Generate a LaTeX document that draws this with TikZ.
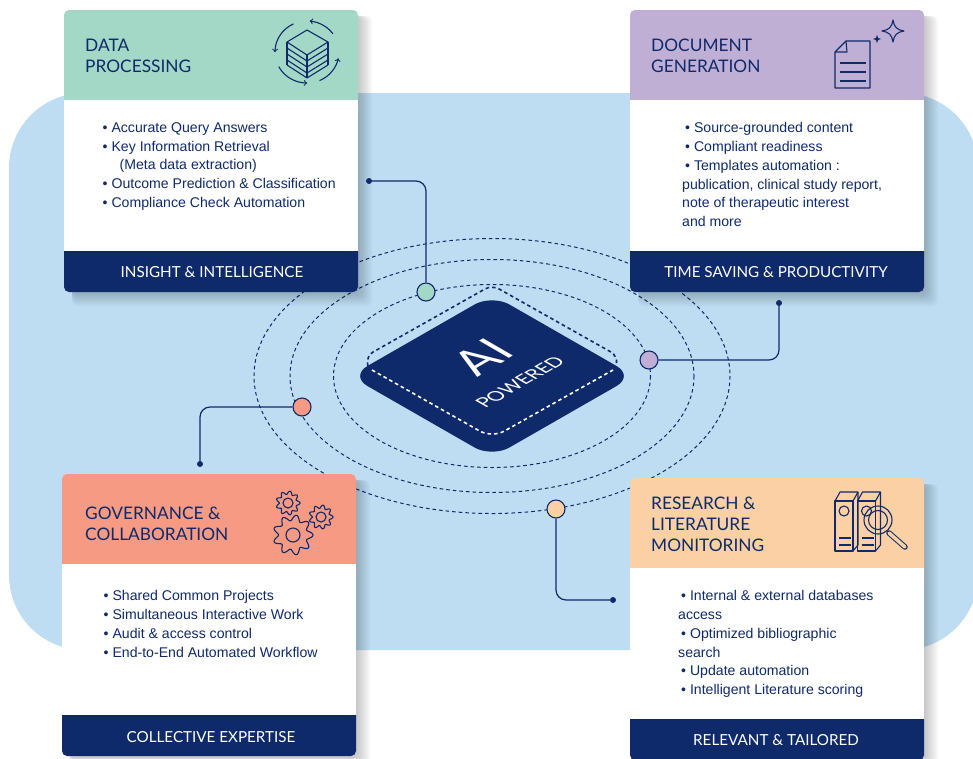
\documentclass[tikz,border=0pt]{standalone}
\usepackage{fontspec}
\setmainfont{Lato}
\newfontfamily\bodyfont{Liberation Sans}
\definecolor{navy}{HTML}{0F2A6B}
\definecolor{skyback}{HTML}{BEDDF3}
\definecolor{greenhead}{HTML}{A3D7C6}
\definecolor{purplehead}{HTML}{BFAFD5}
\definecolor{salmonhead}{HTML}{F69A84}
\definecolor{orangehead}{HTML}{FAD0A4}
\tikzset{
    titletxt/.style={anchor=north west,inner sep=0pt,align=left,text=navy,font=\fontsize{17.3}{21}\selectfont},
    bodytxt/.style={anchor=north west,inner sep=0pt,align=left,text=navy,font=\bodyfont\fontsize{14.1}{18.7}\selectfont},
    foottxt/.style={inner sep=0pt,text=white,font=\fontsize{15.2}{16}\selectfont},
    orbit/.style={draw=navy,line width=1pt,dash pattern=on 3.6pt off 3pt},
    link/.style={draw=navy,line width=1.2pt,rounded corners=10pt},
    hub/.style={circle,draw=navy,line width=1.1pt,minimum size=18pt,inner sep=0pt},
    enddot/.style={circle,fill=navy,minimum size=6pt,inner sep=0pt},
    iconline/.style={draw=navy,line width=1.1pt,line join=round},
    chiptxt/.style={inner sep=0pt,text=white,cm={0.866,0.5,-0.866,0.5,(0,0)}},
}
% one card: left, top, header colour
\newcommand{\cardbox}[3]{
    \foreach \s in {2,4,...,14}
        \fill[black,opacity=0.032,rounded corners=6pt] ({#1+8},{#2+6}) rectangle ({#1+294+\s},{#2+282+\s});
    \fill[#3,rounded corners=5pt] (#1,#2) rectangle ({#1+294},{#2+110});
    \fill[white] (#1,{#2+90}) rectangle ({#1+294},{#2+241});
    \fill[navy] (#1,{#2+241}) -- ({#1+294},{#2+241}) [rounded corners=5pt] -- ({#1+294},{#2+282}) -- (#1,{#2+282}) [sharp corners] -- cycle;
}
% gear outline with hole
\newcommand{\gearicon}[4]{
    \draw[iconline,domain=0:360,samples=145,smooth,variable=\t] plot({#1+#3*(0.86+0.14*cos(9*\t))*cos(\t)},{#2+#3*(0.86+0.14*cos(9*\t))*sin(\t)}) -- cycle;
    \draw[iconline] (#1,#2) circle[radius=#4];
}
\begin{document}
\begin{tikzpicture}[x=1pt,y=-1pt]
    \clip (0,0) rectangle (973,758);
    \fill[white] (0,0) rectangle (973,758);
    \fill[skyback,rounded corners=75pt] (9,93) rectangle (978,650);

    % orbits
    \draw[orbit] (492,376) ellipse [x radius=238,y radius=137.5];
    \draw[orbit] (492,376) ellipse [x radius=202,y radius=116.5];
    \draw[orbit] (492,376) ellipse [x radius=158.5,y radius=91.5];

    % chip
    \fill[navy,rounded corners=20pt] (350,376) -- (492,294.5) -- (634,376) -- (492,457.5) -- cycle;
    \draw[navy,line width=1.6pt,dash pattern=on 3.6pt off 3pt,rounded corners=8pt] (368,366) -- (366,356) -- (492,285) -- (618,356) -- (616,366);
    \draw[white,line width=1.6pt,dash pattern=on 3.6pt off 3pt,rounded corners=14pt] (372,370) -- (492,438) -- (613,370);
    \node[chiptxt,font=\fontsize{48}{48}\selectfont] (aitxt) at (482,357) {AI};
    \node[chiptxt,font=\fontsize{18.8}{20}\selectfont] (poweredtxt) at (520,382) {POWERED};

    % cards
    \cardbox{64}{10}{greenhead}
    \cardbox{630}{10}{purplehead}
    \cardbox{62}{474}{salmonhead}
    \cardbox{630}{478}{orangehead}

    % titles
    \node[titletxt] (titledata) at (85,38.5) {DATA\\PROCESSING};
    \node[titletxt] (titledoc) at (651,38.5) {DOCUMENT\\GENERATION};
    \node[titletxt] (titlegov) at (85,506.5) {GOVERNANCE \&\\COLLABORATION};
    \node[titletxt] (titleres) at (651,496.5) {RESEARCH \&\\LITERATURE\\MONITORING};

    % lists
    \node[bodytxt] (bodydata) at (102.5,122.5) {• Accurate Query Answers\\• Key Information Retrieval\\\hspace*{17pt}(Meta data extraction)\\• Outcome Prediction \& Classification\\• Compliance Check Automation};
    \node[bodytxt] (bodydoc) at (682,122.5) {\hspace*{3pt}• Source-grounded content\\\hspace*{3pt}• Compliant readiness\\\hspace*{3pt}• Templates automation :\\publication, clinical study report,\\note of therapeutic interest\\and more};
    \node[bodytxt] (bodygov) at (103.5,590.5) {• Shared Common Projects\\• Simultaneous Interactive Work\\• Audit \& access control\\• End-to-End Automated Workflow};
    \node[bodytxt] (bodyres) at (678,590.5) {\hspace*{3pt}• Internal \& external databases\\access\\\hspace*{3pt}• Optimized bibliographic\\search\\\hspace*{3pt}• Update automation\\\hspace*{3pt}• Intelligent Literature scoring};

    % footers
    \node[foottxt] (footdata) at (212,272) {INSIGHT \& INTELLIGENCE};
    \node[foottxt] (footdoc) at (776,272) {TIME SAVING \& PRODUCTIVITY};
    \node[foottxt] (footgov) at (211,737) {COLLECTIVE EXPERTISE};
    \node[foottxt] (footres) at (776,740) {RELEVANT \& TAILORED};

    % hubs and connectors
    \node[hub,fill=greenhead] (hubgreen) at (426,292) {};
    \node[hub,fill=purplehead] (hubpurple) at (649,360) {};
    \node[hub,fill=salmonhead] (hubsalmon) at (302,407) {};
    \node[hub,fill=orangehead] (huborange) at (556,509) {};
    \node[enddot] (dotgreen) at (369,181) {};
    \node[enddot] (dotpurple) at (779,303) {};
    \node[enddot] (dotsalmon) at (200,464) {};
    \node[enddot] (dotorange) at (613,600) {};
    \draw[link] (dotgreen) -| (hubgreen);
    \draw[link] (hubpurple) -| (dotpurple);
    \draw[link] (hubsalmon) -| (dotsalmon);
    \draw[link] (huborange) |- (dotorange);

    % data icon
    \draw[iconline] (307,30) -- (328,42) -- (307,55) -- (287,42) -- cycle;
    \foreach \d in {6,12,18,23}
        \draw[iconline] (287,{42+\d}) -- (307,{55+\d}) -- (328,{42+\d});
    \draw[iconline] (287,42) -- (287,65) (328,42) -- (328,65) (307,55) -- (307,78);
    \draw[iconline,->,domain=36:85,smooth,variable=\t] plot({307+32*cos(\t)},{52-31*sin(\t)});
    \draw[iconline,->,domain=115:180,smooth,variable=\t] plot({307+32*cos(\t)},{52-31*sin(\t)});
    \draw[iconline,->,domain=208:270,smooth,variable=\t] plot({307+32*cos(\t)},{52-31*sin(\t)});
    \draw[iconline,->,domain=293:348,smooth,variable=\t] plot({307+32*cos(\t)},{52-31*sin(\t)});

    % document icon
    \draw[iconline] (846,41) -- (870,41) -- (870,88) -- (835,88) -- (835,52) -- cycle;
    \draw[iconline] (846,41) -- (847,52) -- (835,52);
    \foreach \l in {63,72,81}
        \draw[iconline] (840,\l) -- (866,\l);
    \draw[iconline] (893,20) .. controls (894,27) and (897,30) .. (904,31) .. controls (897,32) and (894,35) .. (893,42) .. controls (892,35) and (889,32) .. (882,31) .. controls (889,30) and (892,27) .. (893,20) -- cycle;
    \fill[navy] (877,35) .. controls (877.5,38) and (878,38.5) .. (881,39) .. controls (878,39.5) and (877.5,40) .. (877,43) .. controls (876.5,40) and (876,39.5) .. (873,39) .. controls (876,38.5) and (876.5,38) .. (877,35) -- cycle;

    % gears icon
    \gearicon{288}{503}{12}{5}
    \gearicon{321}{517}{12}{5}
    \gearicon{293}{535}{20}{7}

    % binders icon
    \foreach \b in {0,22.5}{
        \draw[iconline] ({835+\b},501) -- ({853+\b},501) -- ({853+\b},551) -- ({835+\b},551) -- cycle;
        \draw[iconline] ({835+\b},501) -- ({840+\b},492) -- ({858+\b},492) -- ({853+\b},501);
        \draw[iconline] ({858+\b},492) -- ({858+\b},545) -- ({853+\b},551);
        \draw[iconline] ({844+\b},511) circle[radius=5];
        \draw[iconline] ({839+\b},538) -- ({851+\b},538) ({839+\b},545) -- ({851+\b},545);
    }
    \draw[iconline] (878,520) circle[radius=14];
    \draw[iconline] (878,520) circle[radius=9.5];
    \draw[navy,line width=5.5pt,line cap=round] (889,533) -- (905,547);
    \draw[orangehead,line width=3.5pt,line cap=round] (889,533) -- (905,547);
\end{tikzpicture}
\end{document}
